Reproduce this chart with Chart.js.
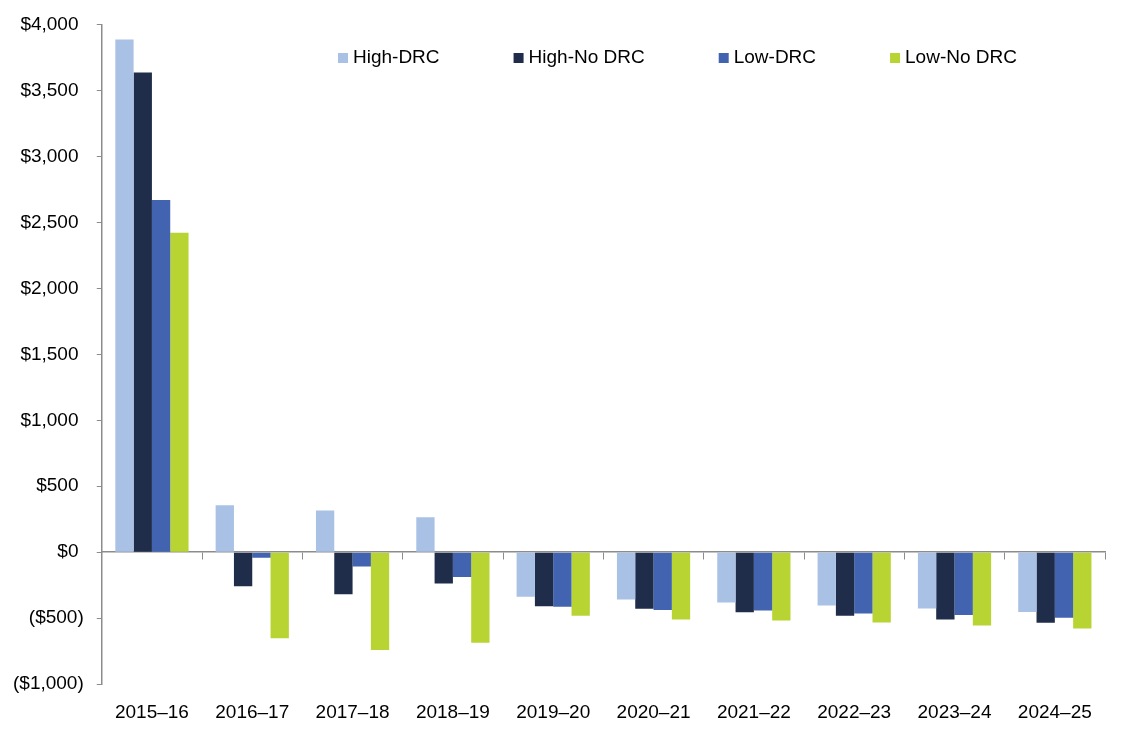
<!DOCTYPE html>
<html>
<head>
<meta charset="utf-8">
<script src="https://cdn.jsdelivr.net/npm/chart.js@4.4.1/dist/chart.umd.min.js"></script>
<style>
  html, body { margin: 0; padding: 0; background: #fff; }
  #wrap { width: 1121px; height: 737px; }
</style>
</head>
<body>
<div id="wrap"><canvas id="drcChart"></canvas></div>
<script>
const years = ['2015–16', '2016–17', '2017–18', '2018–19', '2019–20', '2020–21', '2021–22', '2022–23', '2023–24', '2024–25'];
const highDrc   = [3885,  356,  316,  265, -338, -359, -381, -404, -427, -452];
const highNoDrc = [3635, -258, -318, -237, -409, -429, -454, -482, -510, -535];
const lowDrc    = [2670,  -41, -108, -187, -414, -437, -441, -464, -475, -497];
const lowNoDrc  = [2422, -652, -740, -685, -482, -510, -517, -532, -555, -578];
const yTicks = [4000, 3500, 3000, 2500, 2000, 1500, 1000, 500, 0, -500, -1000];

const FONT = '"Liberation Sans", Arial, Helvetica, sans-serif';
const AXIS = '#8c8c8c';

// accounting style: negatives in brackets, positives padded so digits line up
function money(v) {
  const s = '$' + Math.abs(v).toLocaleString('en-US');
  return v < 0 ? '(' + s + ')' : s + ' ';
}

// legend sits inside the plot, one row
const insideLegend = {
  id: 'insideLegend',
  afterDraw(chart) {
    const ctx = chart.ctx;
    ctx.save();
    ctx.font = '19px ' + FONT;
    ctx.textBaseline = 'middle';
    let x = 338;
    const y = 57;
    chart.data.datasets.forEach(ds => {
      ctx.fillStyle = ds.backgroundColor;
      ctx.fillRect(x, y - 4, 10, 10);
      ctx.fillStyle = '#000';
      ctx.fillText(ds.label, x + 15, y + 1);
      x += 15 + ctx.measureText(ds.label).width + 74;
    });
    ctx.restore();
  }
};

new Chart(document.getElementById('drcChart'), {
  type: 'bar',
  data: {
    labels: years,
    datasets: [
      { label: 'High-DRC', data: highDrc, backgroundColor: '#a9c1e5' },
      { label: 'High-No DRC', data: highNoDrc, backgroundColor: '#1f2d4b' },
      { label: 'Low-DRC', data: lowDrc, backgroundColor: '#4263af' },
      { label: 'Low-No DRC', data: lowNoDrc, backgroundColor: '#b8d432' }
    ]
  },
  options: {
    responsive: true,
    maintainAspectRatio: false,
    animation: false,
    categoryPercentage: 0.73,
    barPercentage: 1.0,
    layout: { padding: { top: 14, right: 16, bottom: 4, left: 0 } },
    plugins: {
      legend: { display: false },
      tooltip: { enabled: false }
    },
    scales: {
      x: {
        grid: { display: false },
        border: { display: false },
        ticks: { color: '#000', font: { family: FONT, size: 19 }, padding: 9, maxRotation: 0 }
      },
      x2: {
        type: 'category',
        position: { y: 0 },
        grid: { offset: true, drawOnChartArea: false, drawTicks: true, tickLength: 7, color: AXIS },
        border: { color: AXIS, width: 1.5 },
        ticks: { display: false }
      },
      y: {
        min: -1000,
        max: 4000,
        afterBuildTicks(scale) { scale.ticks = yTicks.map(v => ({ value: v })); },
        grid: { drawOnChartArea: false, drawTicks: true, tickLength: 5, color: AXIS },
        border: { color: AXIS, width: 1.5 },
        ticks: { color: '#000', font: { family: FONT, size: 19 }, padding: 13, callback: v => money(v) }
      }
    }
  },
  plugins: [insideLegend]
});
</script>
</body>
</html>
